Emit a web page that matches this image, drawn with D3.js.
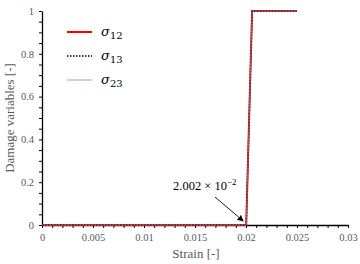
<!DOCTYPE html>
<html>
<head>
<meta charset="utf-8">
<script src="https://cdn.jsdelivr.net/npm/d3@7"></script>
<style>
  body { margin: 0; background: #fff; }
  svg { display: block; }
  .serif { font-family: "Liberation Serif", "Times New Roman", "DejaVu Serif", serif; }
</style>
</head>
<body>
<div id="chart"></div>
<script>
// damage curves (all three components coincide)
const strain = [0, 0.02002, 0.0206, 0.025];
const damage12 = [0, 0, 1, 1];
const damage13 = [0, 0, 1, 1];
const damage23 = [0, 0, 1, 1];
const xTicks = [0, 0.005, 0.01, 0.015, 0.02, 0.025, 0.03];
const xTickLabels = ['0', '0.005', '0.01', '0.015', '0.02', '0.025', '0.03'];
const yTicks = [0, 0.2, 0.4, 0.6, 0.8, 1];
const yTickLabels = ['0', '0.2', '0.4', '0.6', '0.8', '1'];
const seriesNames = ['12', '13', '23'];

const width = 360, height = 264;
const margin = { left: 42, right: 12, top: 11, bottom: 39 };

const svg = d3.select('#chart').append('svg')
  .attr('width', width)
  .attr('height', height);

const x = d3.scaleLinear().domain([0, 0.03]).range([margin.left, width - margin.right]);
const y = d3.scaleLinear().domain([0, 1]).range([height - margin.bottom, margin.top]);

const grey = '#595959';

// minor ticks
svg.append('g')
  .attr('transform', `translate(0,${y(0)})`)
  .call(d3.axisBottom(x).tickValues(d3.range(0, 31).map(i => i * 0.001)).tickSize(3).tickFormat(''))
  .call(g => g.select('.domain').remove())
  .call(g => g.selectAll('line').attr('stroke', '#000'));

svg.append('g')
  .attr('transform', `translate(${x(0)},0)`)
  .call(d3.axisLeft(y).tickValues(d3.range(0, 21).map(i => i * 0.05)).tickSize(3).tickFormat(''))
  .call(g => g.select('.domain').remove())
  .call(g => g.selectAll('line').attr('stroke', '#000'));

// main axes
const xAxis = svg.append('g')
  .attr('transform', `translate(0,${y(0)})`)
  .call(d3.axisBottom(x).tickValues(xTicks).tickSize(0).tickPadding(9)
    .tickFormat((d, i) => xTickLabels[i]));
xAxis.select('.domain').attr('stroke', '#000').attr('stroke-width', 1.3);
xAxis.selectAll('text').attr('class', 'serif').attr('font-family', null).attr('font-size', 10.5).attr('fill', grey);

const yAxis = svg.append('g')
  .attr('transform', `translate(${x(0)},0)`)
  .call(d3.axisLeft(y).tickValues(yTicks).tickSize(0).tickPadding(8)
    .tickFormat((d, i) => yTickLabels[i]));
yAxis.select('.domain').attr('stroke', '#000').attr('stroke-width', 1.3);
yAxis.selectAll('text').attr('class', 'serif').attr('font-size', 10.5).attr('fill', grey);

// axis titles
svg.append('text')
  .attr('class', 'serif')
  .attr('x', 196)
  .attr('y', 258)
  .attr('text-anchor', 'middle')
  .attr('font-size', 13).attr('fill', grey)
  .text('Strain [-]');

svg.append('text')
  .attr('class', 'serif')
  .attr('transform', `translate(14,${(y(0) + y(1)) / 2}) rotate(-90)`)
  .attr('text-anchor', 'middle')
  .attr('font-size', 13).attr('fill', grey)
  .text('Damage variables [-]');

// lines
const line = d3.line().x((d, i) => x(strain[i])).y(d => y(d));

svg.append('path').datum(damage12)
  .attr('d', line).attr('fill', 'none')
  .attr('stroke', '#ff0000').attr('stroke-width', 2);
svg.append('path').datum(damage13)
  .attr('d', line).attr('fill', 'none')
  .attr('stroke', '#000').attr('stroke-width', 1.4).attr('stroke-dasharray', '1.5,1.5');
svg.append('path').datum(damage23)
  .attr('d', line).attr('fill', 'none')
  .attr('stroke', '#8fc8f0').attr('stroke-width', 1).attr('opacity', 0.5);

// legend
const legendStyles = [
  { color: '#ff0000', width: 2, dash: null },
  { color: '#000', width: 1.4, dash: '1.5,1.5' },
  { color: '#9ccff2', width: 1.5, dash: null }
];
const legend = svg.append('g');
seriesNames.forEach((name, i) => {
  const ly = 32 + i * 24;
  const st = legendStyles[i];
  legend.append('line')
    .attr('x1', 67).attr('x2', 92).attr('y1', ly).attr('y2', ly)
    .attr('stroke', st.color).attr('stroke-width', st.width)
    .attr('stroke-dasharray', st.dash);
  const t = legend.append('text')
    .attr('x', 101).attr('y', ly + 4)
    .style('font-family', '"DejaVu Serif", serif').attr('font-size', 13).attr('fill', '#000');
  t.append('tspan').attr('font-style', 'italic').text('σ');
  t.append('tspan').attr('font-size', 10).attr('dy', 3).text(name);
});

// annotation
const ann = svg.append('text')
  .attr('class', 'serif')
  .attr('x', 173).attr('y', 190)
  .attr('font-size', 12.5).attr('fill', '#000');
ann.append('tspan').text('2.002 × 10');
ann.append('tspan').attr('font-size', 9).attr('dy', -5).text('−2');

svg.append('defs').append('marker')
  .attr('id', 'arrow')
  .attr('viewBox', '0 0 10 10')
  .attr('refX', 9).attr('refY', 5)
  .attr('markerWidth', 7).attr('markerHeight', 7)
  .attr('orient', 'auto')
  .append('path').attr('d', 'M0,0 L10,5 L0,10 z').attr('fill', '#000');

svg.append('line')
  .attr('x1', 215).attr('y1', 197)
  .attr('x2', x(0.02002) - 3).attr('y2', y(0) - 4)
  .attr('stroke', '#000').attr('stroke-width', 0.9)
  .attr('marker-end', 'url(#arrow)');
</script>
</body>
</html>
